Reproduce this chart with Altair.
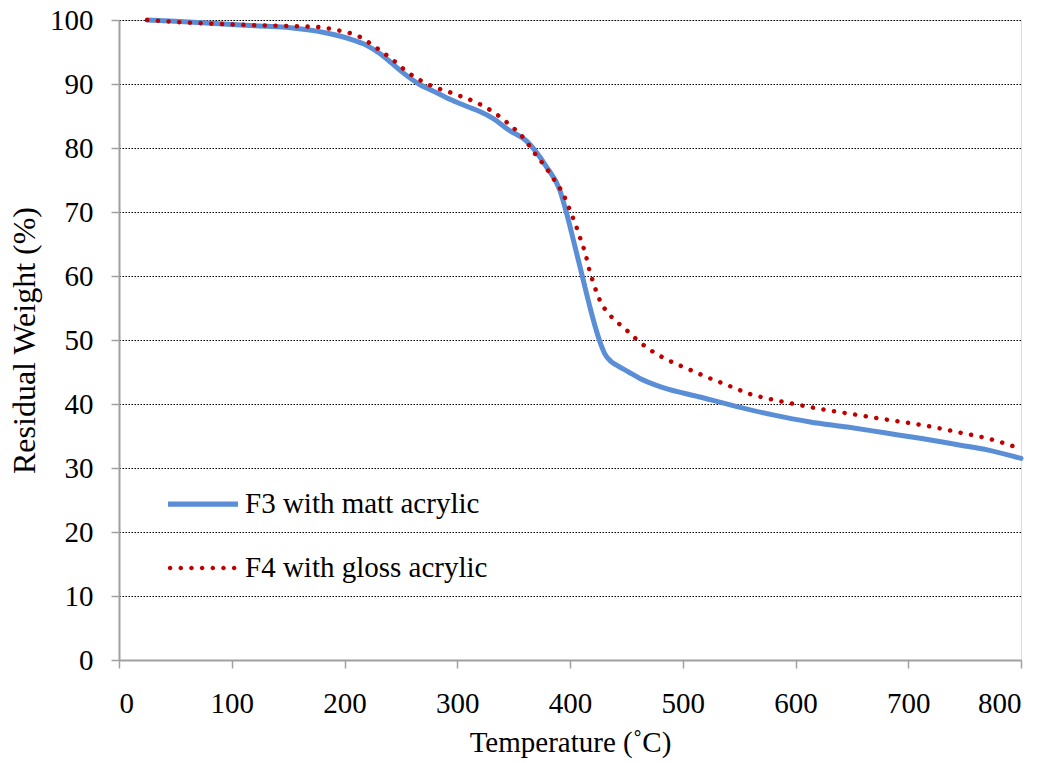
import altair as alt
import pandas as pd

# ---- data ----
series_names = ["F3 with matt acrylic", "F4 with gloss acrylic"]

f3_temp = [25, 50, 89, 120, 148, 183, 207, 220, 231, 241, 251, 266, 280, 295, 310, 320, 332, 345,
           362, 379, 391, 397, 404, 412, 416, 422, 426, 431, 436, 442, 452, 462, 482, 515, 548,
           580, 613, 646, 679, 712, 745, 771, 800]
f3_weight = [100, 99.8, 99.4, 99.1, 98.85, 98.0, 96.9, 96.0, 94.8, 93.4, 91.9, 90.0, 88.8, 87.5,
             86.4, 85.7, 84.6, 82.9, 81.0, 77.1, 73.4, 69.8, 64.9, 59.2, 56.3, 52.3, 50.0, 47.8,
             46.7, 46.0, 45.0, 44.0, 42.6, 41.1, 39.6, 38.3, 37.2, 36.4, 35.5, 34.6, 33.6, 32.8, 31.5]

f4_temp = [25, 60, 101, 148, 176, 194, 212, 228, 243, 257, 273, 300, 317, 333, 348, 355, 361, 366,
           372, 378, 383, 388, 393, 397, 400.5, 404, 407, 410, 413, 415.5, 417.5, 420.5, 423.5,
           427, 432, 438, 445, 452, 459, 470, 482, 495, 507, 520, 533, 546, 559, 577, 596, 623,
           651, 683, 716, 744, 771, 800]
f4_weight = [100, 99.6, 99.3, 99.06, 98.9, 98.4, 97.5, 95.7, 93.75, 91.7, 90.05, 88.3, 87.1, 85.5,
             83.4, 82.3, 81.1, 79.8, 78.4, 77.1, 75.8, 74.5, 73.1, 71.6, 70.0, 68.5, 67.0, 65.4,
             63.9, 62.2, 60.7, 59.1, 57.5, 56.0, 54.6, 53.4, 52.3, 51.25, 50.1, 48.6, 47.3, 46.2,
             45.3, 44.3, 43.4, 42.5, 41.6, 40.8, 40.1, 39.2, 38.4, 37.5, 36.6, 35.6, 34.6, 33.0]

x_ticks = [0, 100, 200, 300, 400, 500, 600, 700, 800]
y_ticks = [0, 10, 20, 30, 40, 50, 60, 70, 80, 90, 100]

series_colors = ["#5A8ED6", "#C00000"]

df = pd.concat([
    pd.DataFrame({"temp": f3_temp, "weight": f3_weight, "series": series_names[0]}),
    pd.DataFrame({"temp": f4_temp, "weight": f4_weight, "series": series_names[1]}),
], ignore_index=True)

FONT = "Liberation Serif"
AXIS_GRAY = "#A0A0A0"


def circle(cx, r):
    return f"M{cx - r:.3f},0a{r},{r} 0 1,0 {2 * r},0a{r},{r} 0 1,0 {-2 * r},0Z"


# legend glyphs (unit symbol space, scaled by the legend symbol size)
solid_glyph = "M-1,-0.075L1,-0.075L1,0.075L-1,0.075Z"
dot_glyph = "".join(circle(-0.94 + k * 0.305, 0.065) for k in range(7))

x_enc = alt.X("temp:Q",
              scale=alt.Scale(domain=[0, 800], nice=False, zero=False),
              axis=alt.Axis(values=x_ticks, title="Temperature (˚C)", grid=False,
                            domainColor=AXIS_GRAY, domainWidth=2, tickColor=AXIS_GRAY,
                            tickWidth=1.5, tickSize=8, labelPadding=21, titlePadding=10,
                            labelFont=FONT, labelFontSize=29, labelColor="black",
                            titleFont=FONT, titleFontSize=29, titleFontWeight="normal",
                            titleColor="black"))
y_enc = alt.Y("weight:Q",
              scale=alt.Scale(domain=[0, 100], nice=False),
              axis=alt.Axis(values=y_ticks, title="Residual Weight (%)", grid=True,
                            gridColor="black", gridDash=[1.5, 1.5], gridWidth=1.2,
                            domainColor=AXIS_GRAY, domainWidth=2, tickColor=AXIS_GRAY,
                            tickWidth=1.5, tickSize=8, labelPadding=18, titlePadding=8,
                            labelFont=FONT, labelFontSize=29, labelColor="black",
                            titleFont=FONT, titleFontSize=32, titleFontWeight="normal",
                            titleColor="black"))

base = alt.Chart(df)

f3_line = base.transform_filter(alt.datum.series == series_names[0]).mark_line(
    color=series_colors[0], strokeWidth=5, strokeCap="round", strokeJoin="round",
    interpolate="monotone",
).encode(x=x_enc, y=y_enc)

f4_line = base.transform_filter(alt.datum.series == series_names[1]).mark_line(
    color=series_colors[1], strokeWidth=4.5, strokeCap="round", strokeDash=[0.1, 10.6],
    interpolate="monotone",
).encode(x=x_enc, y=y_enc)

legend = alt.Legend(
    title=None, orient="none", legendX=49, legendY=449,
    symbolSize=4900, symbolStrokeWidth=0,
    labelFont=FONT, labelFontSize=29, labelColor="black", labelLimit=0,
    labelOffset=7, rowPadding=14, padding=0,
)

# legend-only layer (no rows pass the filter, so it draws nothing on the plot)
legend_layer = base.transform_filter(alt.datum.weight > 1000).mark_point(
    filled=True, opacity=1, size=4900,
).encode(
    x=x_enc, y=y_enc,
    color=alt.Color("series:N", scale=alt.Scale(domain=series_names, range=series_colors),
                    legend=legend),
    shape=alt.Shape("series:N", scale=alt.Scale(domain=series_names,
                                                range=[solid_glyph, dot_glyph]),
                    legend=legend),
)

chart = alt.layer(f3_line, f4_line, legend_layer).properties(
    width=902, height=640,
    autosize=alt.AutoSizeParams(type="none"),
    padding={"left": 111, "top": 12, "right": 17, "bottom": 100},
).configure_view(
    stroke="black", strokeWidth=1.5
).configure(background="white")

chart.save("out.html", embed_options={"renderer": "svg", "actions": False})
